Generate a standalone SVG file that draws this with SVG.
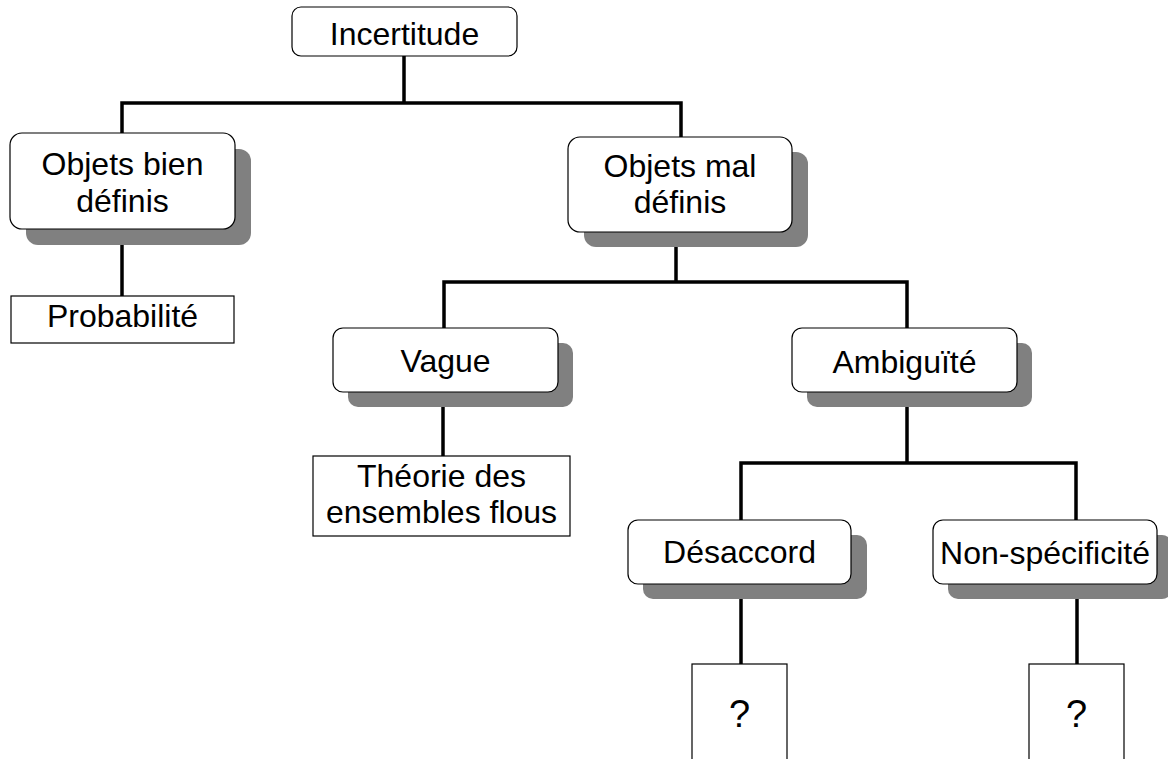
<svg xmlns="http://www.w3.org/2000/svg" width="1168" height="759" viewBox="0 0 1168 759">
<style>
.bg{fill:#ffffff}
.shadow{fill:#808080}
.rbox{fill:#ffffff;stroke:#000000;stroke-width:1.2}
.sbox{fill:#ffffff;stroke:#000000;stroke-width:1.2}
.t{font-family:"Liberation Sans",Arial,sans-serif;font-size:32px;fill:#000000;text-anchor:middle}
.q{font-size:38px}
.c{fill:none;stroke:#000000;stroke-width:3.5;stroke-linecap:butt;stroke-linejoin:miter}
</style>
<rect class="bg" x="0" y="0" width="1168" height="759"/>
<g id="connectors">
<path class="c" d="M404,56 V103 M122,133 V103 H681 V137"/>
<path class="c" d="M122,229 V296"/>
<path class="c" d="M676,232 V282 M444,328 V282 H907 V328"/>
<path class="c" d="M443,392 V456"/>
<path class="c" d="M907,392 V463 M741,520 V463 H1076 V520"/>
<path class="c" d="M741,584 V664"/>
<path class="c" d="M1077,584 V664"/>
</g>
<g id="n-incertitude">
<rect class="rbox" x="292" y="7" width="225" height="49" rx="9"/>
<text class="t" x="404.5" y="45">Incertitude</text>
</g>
<g id="n-objets-bien">
<rect class="shadow" x="26" y="149" width="225" height="96" rx="12"/>
<rect class="rbox" x="10" y="133" width="225" height="96" rx="12"/>
<text class="t" x="122.5" y="175">Objets bien</text>
<text class="t" x="122.5" y="212">définis</text>
</g>
<g id="n-probabilite">
<rect class="sbox" x="11" y="296" width="223" height="47"/>
<text class="t" x="122.5" y="327">Probabilité</text>
</g>
<g id="n-objets-mal">
<rect class="shadow" x="584" y="152" width="224" height="95" rx="12"/>
<rect class="rbox" x="568" y="137" width="224" height="95" rx="12"/>
<text class="t" x="680" y="177">Objets mal</text>
<text class="t" x="680" y="213">définis</text>
</g>
<g id="n-vague">
<rect class="shadow" x="348" y="343" width="225" height="64" rx="10"/>
<rect class="rbox" x="333" y="328" width="225" height="64" rx="10"/>
<text class="t" x="445.5" y="372">Vague</text>
</g>
<g id="n-theorie">
<rect class="sbox" x="313" y="456" width="257" height="80"/>
<text class="t" x="441.5" y="487">Théorie des</text>
<text class="t" x="441.5" y="523">ensembles flous</text>
</g>
<g id="n-ambiguite">
<rect class="shadow" x="807" y="343" width="225" height="64" rx="10"/>
<rect class="rbox" x="792" y="328" width="225" height="64" rx="10"/>
<text class="t" x="904.5" y="373">Ambiguïté</text>
</g>
<g id="n-desaccord">
<rect class="shadow" x="643" y="535" width="224" height="64" rx="10"/>
<rect class="rbox" x="628" y="520" width="223" height="64" rx="10"/>
<text class="t" x="739.5" y="563">Désaccord</text>
</g>
<g id="n-non-specificite">
<rect class="shadow" x="948" y="535" width="224" height="64" rx="10"/>
<rect class="rbox" x="933" y="520" width="224" height="64" rx="10"/>
<text class="t" x="1045" y="564">Non-spécificité</text>
</g>
<g id="n-q1">
<rect class="sbox" x="692" y="664" width="95" height="110"/>
<text class="t q" x="739.5" y="727">?</text>
</g>
<g id="n-q2">
<rect class="sbox" x="1029" y="664" width="95" height="110"/>
<text class="t q" x="1076.5" y="727">?</text>
</g>
</svg>
